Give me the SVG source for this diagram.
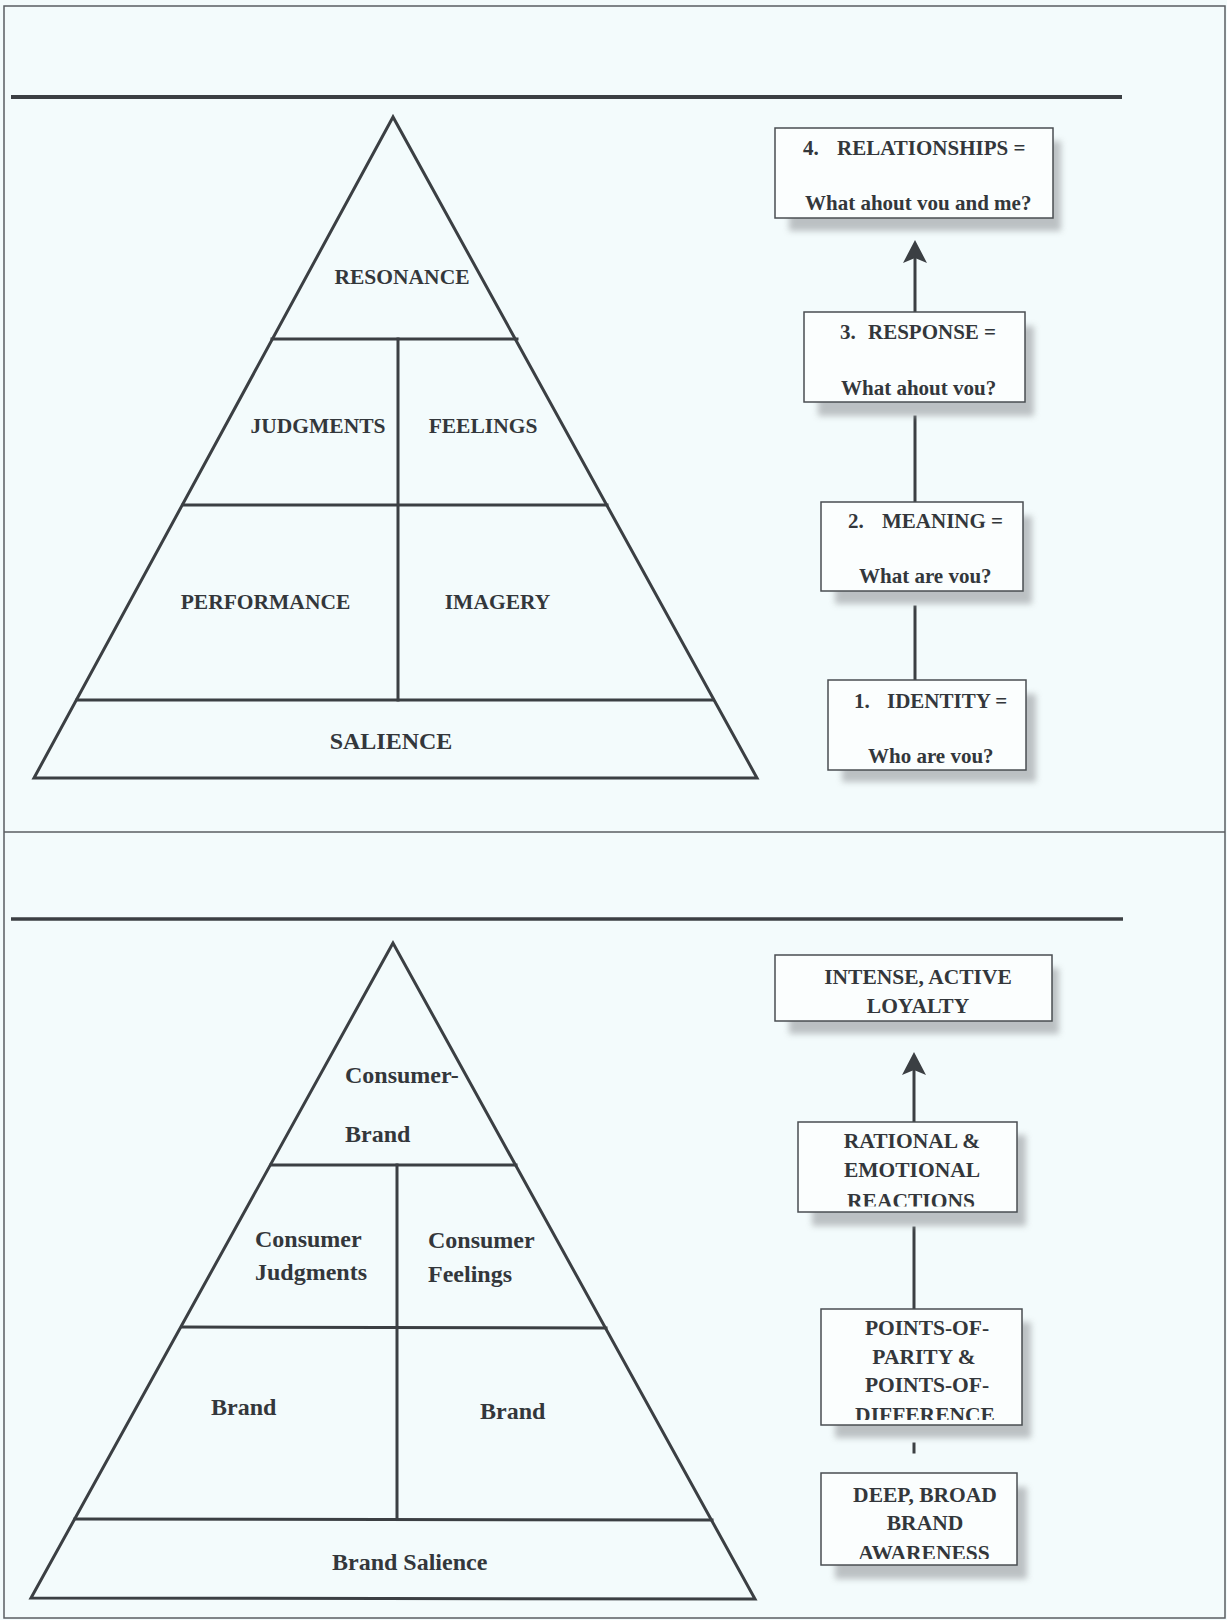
<svg xmlns="http://www.w3.org/2000/svg" width="1227" height="1620" viewBox="0 0 1227 1620">
<style>
.ln{stroke:#3b3f43;stroke-width:3;fill:none;stroke-linecap:square}
.frm{stroke:#5a5e62;stroke-width:1.5;fill:none}
.box{fill:#fbfefe;stroke:#4a4e52;stroke-width:1.5}
.sh{fill:#a9adb0;opacity:0.75}
.t{font-family:"Liberation Serif","Times New Roman",serif;font-weight:bold;fill:#33373b}
.p1{font-size:21.5px;text-anchor:middle}
.p2{font-size:24px}
.bx{font-size:21px}
.bc{font-size:21.5px;text-anchor:middle}
</style>
<defs>
<filter id="blur" x="-20%" y="-20%" width="140%" height="140%"><feGaussianBlur stdDeviation="3"/></filter>
<marker id="arr" viewBox="-6 -13 26 26" refX="0" refY="0" markerWidth="26" markerHeight="26" markerUnits="userSpaceOnUse" orient="auto">
<path d="M18,0 L-5,-12 L0,0 L-5,12 Z" fill="#3b3f43"/>
</marker>
<clipPath id="cB"><rect x="798" y="1122" width="219" height="84.5"/></clipPath>
<clipPath id="cC"><rect x="821" y="1309" width="201" height="111"/></clipPath>
<clipPath id="cD"><rect x="821" y="1473" width="196" height="86"/></clipPath>
</defs>
<rect x="0" y="0" width="1227" height="1620" fill="#f3fbfc"/>
<g id="frame">
<rect class="frm" x="4" y="6" width="1221" height="1612"/>
<line class="frm" x1="4" y1="832" x2="1225" y2="832"/>
<line x1="11" y1="97" x2="1122" y2="97" stroke="#3b3f43" stroke-width="4"/>
<line x1="11" y1="919" x2="1123" y2="919" stroke="#3b3f43" stroke-width="3.5"/>
</g>
<g id="pyramid-top">
<polygon class="ln" points="393,117 34,778 757,778" stroke-linejoin="miter"/>
<line class="ln" x1="272" y1="339" x2="517" y2="339"/>
<line class="ln" x1="183" y1="505" x2="607" y2="505"/>
<line class="ln" x1="77" y1="700" x2="713" y2="700"/>
<line class="ln" x1="398" y1="339" x2="398" y2="700"/>
<text class="t p1" x="402" y="284">RESONANCE</text>
<text class="t p1" x="318" y="433">JUDGMENTS</text>
<text class="t p1" x="483" y="433">FEELINGS</text>
<text class="t p1" x="265.5" y="609">PERFORMANCE</text>
<text class="t p1" x="497.5" y="609">IMAGERY</text>
<text class="t p1" x="391" y="749" style="font-size:24px">SALIENCE</text>
</g>
<g id="pyramid-bottom">
<polygon class="ln" points="393,943 31,1598 755,1599"/>
<line class="ln" x1="271" y1="1165" x2="516" y2="1165"/>
<line class="ln" x1="182" y1="1327" x2="606" y2="1328"/>
<line class="ln" x1="75" y1="1519" x2="712" y2="1520"/>
<line class="ln" x1="397" y1="1165" x2="397" y2="1519"/>
<text class="t p2" x="345" y="1083">Consumer-</text>
<text class="t p2" x="345" y="1142">Brand</text>
<text class="t p2" x="255" y="1247">Consumer</text>
<text class="t p2" x="255" y="1280">Judgments</text>
<text class="t p2" x="428" y="1248">Consumer</text>
<text class="t p2" x="428" y="1282">Feelings</text>
<text class="t p2" x="211" y="1414.5">Brand</text>
<text class="t p2" x="480" y="1418.5">Brand</text>
<text class="t p2" x="332" y="1570">Brand Salience</text>
</g>
<g id="connectors">
<line class="ln" x1="915" y1="312" x2="915" y2="258" marker-end="url(#arr)"/>
<line class="ln" x1="915" y1="417" x2="915" y2="502"/>
<line class="ln" x1="915" y1="607" x2="915" y2="680"/>
<line class="ln" x1="914" y1="1122" x2="914" y2="1070" marker-end="url(#arr)"/>
<line class="ln" x1="914" y1="1228" x2="914" y2="1309"/>
<line class="ln" x1="914" y1="1444" x2="914" y2="1452"/>
</g>
<g id="node-relationships">
<rect class="sh" x="789" y="141" width="272" height="90" filter="url(#blur)"/>
<rect class="box" x="775" y="128" width="278" height="90"/>
<text class="t bx" y="155"><tspan x="803">4.</tspan><tspan x="837">RELATIONSHIPS =</tspan></text>
<text class="t bx" x="805" y="210">What ahout vou and me?</text>
</g>
<g id="node-response">
<rect class="sh" x="818" y="326" width="216" height="90" filter="url(#blur)"/>
<rect class="box" x="804" y="312" width="221" height="90"/>
<text class="t bx" y="339"><tspan x="840">3.</tspan><tspan x="868">RESPONSE =</tspan></text>
<text class="t bx" x="841" y="395">What ahout vou?</text>
</g>
<g id="node-meaning">
<rect class="sh" x="835" y="516" width="197" height="88" filter="url(#blur)"/>
<rect class="box" x="821" y="502" width="202" height="89"/>
<text class="t bx" y="528"><tspan x="848">2.</tspan><tspan x="882">MEANING =</tspan></text>
<text class="t bx" x="859" y="583">What are vou?</text>
</g>
<g id="node-identity">
<rect class="sh" x="842" y="694" width="194" height="88" filter="url(#blur)"/>
<rect class="box" x="828" y="680" width="198" height="90"/>
<text class="t bx" y="708"><tspan x="854">1.</tspan><tspan x="887">IDENTITY =</tspan></text>
<text class="t bx" x="868" y="763">Who are vou?</text>
</g>
<g id="node-loyalty">
<rect class="sh" x="789" y="968" width="270" height="66" filter="url(#blur)"/>
<rect class="box" x="775" y="955" width="277" height="66"/>
<text class="t bc" x="918" y="984">INTENSE, ACTIVE</text>
<text class="t bc" x="918" y="1013">LOYALTY</text>
</g>
<g id="node-reactions">
<rect class="sh" x="812" y="1135" width="214" height="91" filter="url(#blur)"/>
<rect class="box" x="798" y="1122" width="219" height="90"/>
<g clip-path="url(#cB)">
<text class="t bc" x="912" y="1148">RATIONAL &amp;</text>
<text class="t bc" x="912" y="1177">EMOTIONAL</text>
<text class="t bc" x="911" y="1208">REACTIONS</text>
</g>
</g>
<g id="node-points">
<rect class="sh" x="835" y="1322" width="196" height="116" filter="url(#blur)"/>
<rect class="box" x="821" y="1309" width="201" height="116"/>
<g clip-path="url(#cC)">
<text class="t bc" x="927" y="1335">POINTS-OF-</text>
<text class="t bc" x="924" y="1363.5">PARITY &amp;</text>
<text class="t bc" x="927" y="1392">POINTS-OF-</text>
<text class="t bc" x="925" y="1422">DIFFERENCE</text>
</g>
</g>
<g id="node-awareness">
<rect class="sh" x="835" y="1487" width="192" height="92" filter="url(#blur)"/>
<rect class="box" x="821" y="1473" width="196" height="92"/>
<g clip-path="url(#cD)">
<text class="t bc" x="925" y="1502">DEEP, BROAD</text>
<text class="t bc" x="925" y="1530">BRAND</text>
<text class="t bc" x="924" y="1560">AWARENESS</text>
</g>
</g>
</svg>
